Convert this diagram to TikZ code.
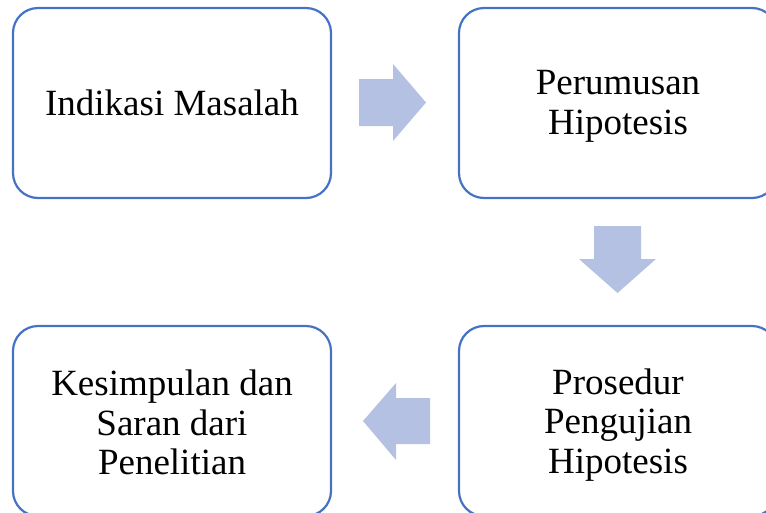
\documentclass[tikz,border=0pt]{standalone}
\usepackage{fontspec}
\setmainfont{Liberation Serif}
\definecolor{boxblue}{RGB}{68,114,196}
\definecolor{arrowfill}{RGB}{180,193,226}
\begin{document}
\begin{tikzpicture}[x=1pt,y=-1pt,
  stepbox/.style={draw=boxblue,line width=2.2pt,rounded corners=25pt,minimum width=318pt,minimum height=190pt,inner sep=0pt},
  steptext/.style={align=center,font=\fontsize{37}{39.5}\selectfont,inner sep=0pt},
  blockarrow/.style={fill=arrowfill,draw=none}]
\useasboundingbox (0,0) rectangle (766,512);
\clip (0,0) rectangle (766,512);
\node[stepbox] (a) at (172,103) {};
\node[stepbox] (b) at (618,103) {};
\node[stepbox] (c) at (618,421) {};
\node[stepbox] (d) at (172,421) {};
\node[steptext] (ta) at (a.center) {Indikasi Masalah};
\node[steptext,yshift=-3.5pt] (tb) at (b.center) {Perumusan\\Hipotesis};
\node[steptext,yshift=-4pt] (tc) at (c.center) {Prosedur\\Pengujian\\Hipotesis};
\node[steptext,yshift=-1.5pt] (td) at (d.center) {Kesimpulan dan\\Saran dari\\Penelitian};
% right arrow
\fill[blockarrow] (359,79) -- (393,79) -- (393,64) -- (426,102.5) -- (393,141) -- (393,126) -- (359,126) -- cycle;
% down arrow
\fill[blockarrow] (594,226) -- (641,226) -- (641,259) -- (656,259) -- (617.5,293) -- (579,259) -- (594,259) -- cycle;
% left arrow
\fill[blockarrow] (430,398) -- (396,398) -- (396,383) -- (363,421) -- (396,460) -- (396,444) -- (430,444) -- cycle;
\end{tikzpicture}
\end{document}
